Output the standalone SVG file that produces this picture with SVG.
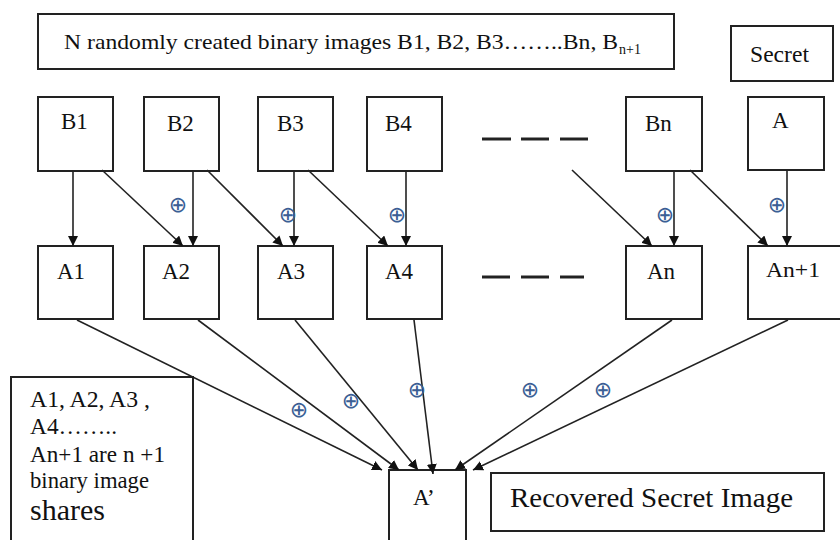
<svg xmlns="http://www.w3.org/2000/svg" width="840" height="540" viewBox="0 0 840 540">
<defs>
<marker id="ah" viewBox="0 0 10 10" refX="10" refY="5" markerWidth="10" markerHeight="10" markerUnits="userSpaceOnUse" orient="auto">
<path d="M0,0 L10,5 L0,10 z" fill="#111"/>
</marker>
</defs>
<style>
.box{fill:#fff;stroke:#222;stroke-width:2}
.t{font-family:'Liberation Serif',Tinos,'Times New Roman','DejaVu Serif','Noto Serif',serif;fill:#111}
.lbl{font-size:23px}
.c{stroke:#222;stroke-width:1.6;fill:none;marker-end:url(#ah)}
.x{font-family:'DejaVu Sans',sans-serif;font-size:22px;fill:#3b5f95}
.dash{stroke:#222;stroke-width:3}
</style>
<rect width="840" height="540" fill="#fff"/>

<g id="title">
<rect class="box" x="38" y="14" width="636" height="55"/>
<text class="t" x="64" y="49" font-size="22" textLength="554" lengthAdjust="spacingAndGlyphs">N randomly created  binary images B1, B2, B3……..Bn, B</text>
<text class="t" x="619" y="54" font-size="14">n+1</text>
</g>
<g id="secret">
<rect class="box" x="731" y="26" width="102" height="55"/>
<text class="t lbl" x="750" y="62" textLength="59" lengthAdjust="spacingAndGlyphs">Secret</text>
</g>

<g id="B1"><rect class="box" x="38" y="97" width="75" height="74"/><text class="t lbl" x="61" y="129">B1</text></g>
<g id="B2"><rect class="box" x="144" y="97" width="75" height="74"/><text class="t lbl" x="167" y="131">B2</text></g>
<g id="B3"><rect class="box" x="258" y="97" width="75" height="74"/><text class="t lbl" x="277" y="131">B3</text></g>
<g id="B4"><rect class="box" x="367" y="97" width="75" height="74"/><text class="t lbl" x="385" y="131">B4</text></g>
<g id="Bn"><rect class="box" x="626" y="97" width="76" height="74"/><text class="t lbl" x="645" y="131">Bn</text></g>
<g id="A"><rect class="box" x="748" y="97" width="76" height="73"/><text class="t lbl" x="772" y="128">A</text></g>

<g id="dots1">
<line class="dash" x1="482" y1="139" x2="511" y2="139"/>
<line class="dash" x1="521" y1="139" x2="549" y2="139"/>
<line class="dash" x1="560" y1="139" x2="588" y2="139"/>
</g>

<g id="A1"><rect class="box" x="38" y="246" width="75" height="73"/><text class="t lbl" x="57" y="279">A1</text></g>
<g id="A2"><rect class="box" x="144" y="246" width="75" height="73"/><text class="t lbl" x="162" y="279">A2</text></g>
<g id="A3"><rect class="box" x="258" y="246" width="75" height="73"/><text class="t lbl" x="277" y="279">A3</text></g>
<g id="A4"><rect class="box" x="367" y="246" width="75" height="73"/><text class="t lbl" x="385" y="279">A4</text></g>
<g id="An"><rect class="box" x="626" y="246" width="76" height="73"/><text class="t lbl" x="647" y="279">An</text></g>
<g id="An1"><rect class="box" x="748" y="246" width="100" height="73"/><text class="t" x="766" y="277" font-size="21" textLength="54" lengthAdjust="spacingAndGlyphs">An+1</text></g>

<g id="dots2">
<line class="dash" x1="482" y1="277" x2="510" y2="277"/>
<line class="dash" x1="521" y1="277" x2="549" y2="277"/>
<line class="dash" x1="560" y1="277" x2="584" y2="277"/>
</g>

<g id="shares-note">
<rect class="box" x="11" y="377" width="182" height="170"/>
<text class="t" x="30" y="407" font-size="23" textLength="120" lengthAdjust="spacingAndGlyphs">A1, A2, A3 ,</text>
<text class="t" x="30" y="434" font-size="23" textLength="87" lengthAdjust="spacingAndGlyphs">A4……..</text>
<text class="t" x="30" y="462" font-size="23" textLength="135" lengthAdjust="spacingAndGlyphs">An+1 are n +1</text>
<text class="t" x="30" y="488" font-size="23" textLength="119" lengthAdjust="spacingAndGlyphs">binary image</text>
<text class="t" x="30" y="520" font-size="29" textLength="75" lengthAdjust="spacingAndGlyphs">shares</text>
</g>

<g id="Aprime">
<rect class="box" x="389" y="470" width="77" height="80"/>
<text class="t lbl" x="413" y="505">A’</text>
</g>
<g id="recovered">
<rect class="box" x="491" y="473" width="333" height="58"/>
<text class="t" x="510" y="507" font-size="28" textLength="283" lengthAdjust="spacingAndGlyphs">Recovered Secret Image</text>
</g>

<g id="connectors">
<line class="c" x1="73" y1="171" x2="73" y2="246"/>
<line class="c" x1="193" y1="171" x2="193" y2="246"/>
<line class="c" x1="294" y1="171" x2="294" y2="246"/>
<line class="c" x1="406" y1="171" x2="406" y2="246"/>
<line class="c" x1="674" y1="171" x2="674" y2="246"/>
<line class="c" x1="787" y1="170" x2="787" y2="246"/>
<line class="c" x1="102" y1="170" x2="183" y2="246"/>
<line class="c" x1="207" y1="170" x2="283" y2="246"/>
<line class="c" x1="308" y1="170" x2="388" y2="246"/>
<line class="c" x1="572" y1="170" x2="652" y2="246"/>
<line class="c" x1="690" y1="170" x2="768" y2="246"/>
<line class="c" x1="77" y1="320" x2="382" y2="470"/>
<line class="c" x1="198" y1="320" x2="399" y2="470"/>
<line class="c" x1="295" y1="320" x2="418" y2="470"/>
<line class="c" x1="414" y1="320" x2="433" y2="474"/>
<line class="c" x1="672" y1="320" x2="455" y2="470"/>
<line class="c" x1="788" y1="320" x2="473" y2="470"/>
</g>

<g id="xor-labels">
<text class="x" x="178" y="212" text-anchor="middle">⊕</text>
<text class="x" x="288" y="222" text-anchor="middle">⊕</text>
<text class="x" x="397" y="222" text-anchor="middle">⊕</text>
<text class="x" x="665" y="222" text-anchor="middle">⊕</text>
<text class="x" x="777" y="212" text-anchor="middle">⊕</text>
<text class="x" x="299" y="417" text-anchor="middle">⊕</text>
<text class="x" x="351" y="408" text-anchor="middle">⊕</text>
<text class="x" x="417" y="397" text-anchor="middle">⊕</text>
<text class="x" x="530" y="397" text-anchor="middle">⊕</text>
<text class="x" x="603" y="397" text-anchor="middle">⊕</text>
</g>
</svg>
